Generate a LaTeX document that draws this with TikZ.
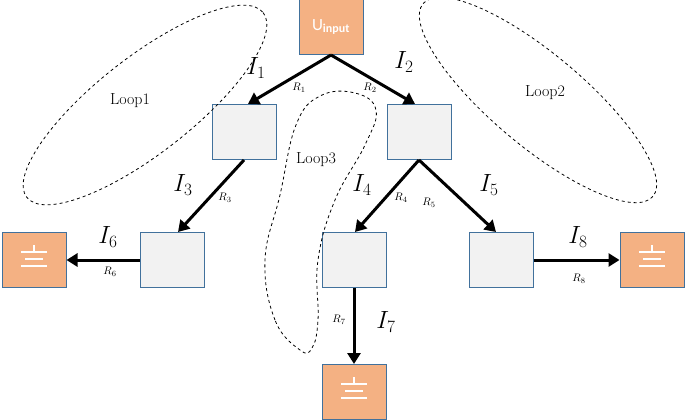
\documentclass[tikz,border=0pt]{standalone}
\usetikzlibrary{arrows.meta}
\usepackage{fontspec}
\newfontfamily\sansf{Carlito}
\definecolor{og}{HTML}{F4B183}\definecolor{bb}{HTML}{41719C}
\begin{document}
\begin{tikzpicture}[x=1pt,y=-1pt,
  box/.style={draw=bb,line width=1pt,minimum width=64pt,minimum height=55pt,inner sep=0pt},
  grey/.style={box,fill=black!5},
  orng/.style={box,fill=og},
  arr/.style={line width=3pt,-{Triangle[length=11pt,width=13pt]}},
  cur/.style={font=\fontsize{26}{26}\selectfont},
  res/.style={font=\fontsize{11}{11}\selectfont},
  looplbl/.style={font=\fontsize{16}{16}\selectfont},
  dloop/.style={dashed,line width=0.8pt}]
\useasboundingbox (0,0) rectangle (685,420);
\node[orng] (U) at (331,27) {\sansf\color{white}\fontsize{17}{17}\selectfont U\textsubscript{\fontsize{12}{12}\selectfont\bfseries input}};
\node[grey] (A) at (244,132) {};
\node[grey] (B) at (419,132) {};
\node[grey] (C) at (172,260) {};
\node[grey] (D) at (354,260) {};
\node[grey] (E) at (501,260) {};
\foreach \n/\p in {G6/{(34,260)},G8/{(652,260)},G7/{(354,392)}}{
  \node[orng] (\n) at \p {};
  \draw[white,line width=1.5pt] ([yshift=15pt]\n.center) -- ([yshift=8pt]\n.center) ([xshift=-13pt,yshift=8pt]\n.center) -- ([xshift=13pt,yshift=8pt]\n.center) ([xshift=-9pt,yshift=1pt]\n.center) -- ([xshift=9pt,yshift=1pt]\n.center) ([xshift=-13pt,yshift=-6pt]\n.center) -- ([xshift=13pt,yshift=-6pt]\n.center);
}
\draw[arr] (U.south) -- ([xshift=4pt]A.north);
\draw[arr] (U.south) -- ([xshift=-4pt]B.north);
\draw[arr] (A.south) -- ([xshift=6pt]C.north);
\draw[arr] (B.south) -- ([xshift=1pt]D.north);
\draw[arr] (B.south) -- ([xshift=-5pt]E.north);
\draw[arr] (C.west) -- (G6.east);
\draw[arr] (E.east) -- (G8.west);
\draw[arr] (D.south) -- (G7.north);
\node[cur] at (256,68) {$I_1$}; \node[res] at (299,88) {$R_1$};
\node[cur] at (404,62) {$I_2$}; \node[res] at (370,88) {$R_2$};
\node[cur] at (183,185) {$I_3$}; \node[res] at (225,198) {$R_3$};
\node[cur] at (362,185) {$I_4$}; \node[res] at (401,198) {$R_4$};
\node[cur] at (489,185) {$I_5$}; \node[res] at (429,203) {$R_5$};
\node[cur] at (108,237) {$I_6$}; \node[res] at (110,272) {$R_6$};
\node[cur] at (386,322) {$I_7$}; \node[res] at (339,320) {$R_7$};
\node[cur] at (578,237) {$I_8$}; \node[res] at (579,279) {$R_8$};
\node[looplbl] at (130,101) {Loop1};
\node[looplbl] at (545,93) {Loop2};
\node[looplbl] at (316,160) {Loop3};
\draw[dloop,rotate around={38:(145,105)}] (145,105) ellipse [x radius=150, y radius=48];
\draw[dloop,rotate around={-40:(538,100)}] (538,100) ellipse [x radius=150, y radius=46];
\draw[dloop] plot[smooth cycle,tension=0.7] coordinates {(300,350) (275,320) (265,260) (280,195) (296,125) (320,96) (355,93) (376,110) (365,145) (335,200) (318,260) (318,320) (312,348)};
\end{tikzpicture}
\end{document}
